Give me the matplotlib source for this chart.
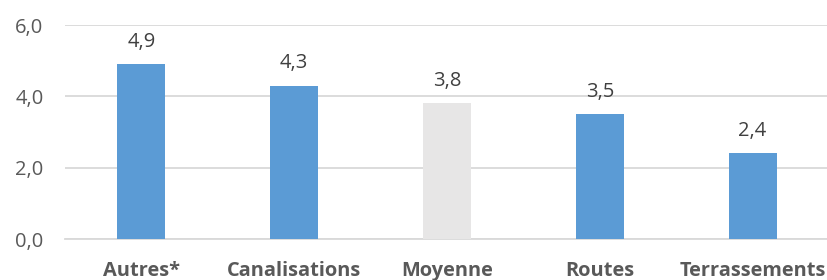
import matplotlib
matplotlib.use("Agg")
import matplotlib.pyplot as plt

categories = ["Autres*", "Canalisations", "Moyenne", "Routes", "Terrassements"]
values = [4.9, 4.3, 3.8, 3.5, 2.4]
colors = ["#5B9BD5", "#5B9BD5", "#E7E6E6", "#5B9BD5", "#5B9BD5"]
yticks = [0, 2, 4, 6]

plt.rcParams['font.family'] = ['Open Sans', 'DejaVu Sans']

fig = plt.figure(figsize=(8.27, 2.80), dpi=100)
ax = fig.add_axes([65/827, 1 - 239/280, (829-65)/827, (239-25)/280])

x = list(range(len(categories)))
ax.bar(x, values, width=0.315, color=colors, zorder=3)
ax.set_xlim(-0.5, len(categories) - 0.5)
ax.set_ylim(0, 6)
ax.set_yticks(yticks)
ax.set_yticklabels([f"{v:.1f}".replace('.', ',') for v in yticks], color="#595959", fontsize=14.5)
ax.set_xticks(x)
ax.set_xticklabels(categories, fontweight='bold', color="#595959", fontsize=14.4)
ax.tick_params(axis='both', length=0)
ax.tick_params(axis='y', pad=15.5)
ax.tick_params(axis='x', pad=16)
for s in ['top', 'right', 'left']:
    ax.spines[s].set_visible(False)
ax.spines['bottom'].set_color('#D9D9D9')
ax.spines['bottom'].set_linewidth(1.3)
ax.grid(axis='y', color='#D9D9D9', linewidth=1.3, zorder=0)
ax.set_axisbelow(True)

for xi, v in zip(x, values):
    ax.annotate(f"{v:.1f}".replace('.', ','), (xi, v), xytext=(0, 9), textcoords='offset points',
                ha='center', va='bottom', color="#404040", fontsize=14.5)

fig.savefig("out.png", dpi=100)
